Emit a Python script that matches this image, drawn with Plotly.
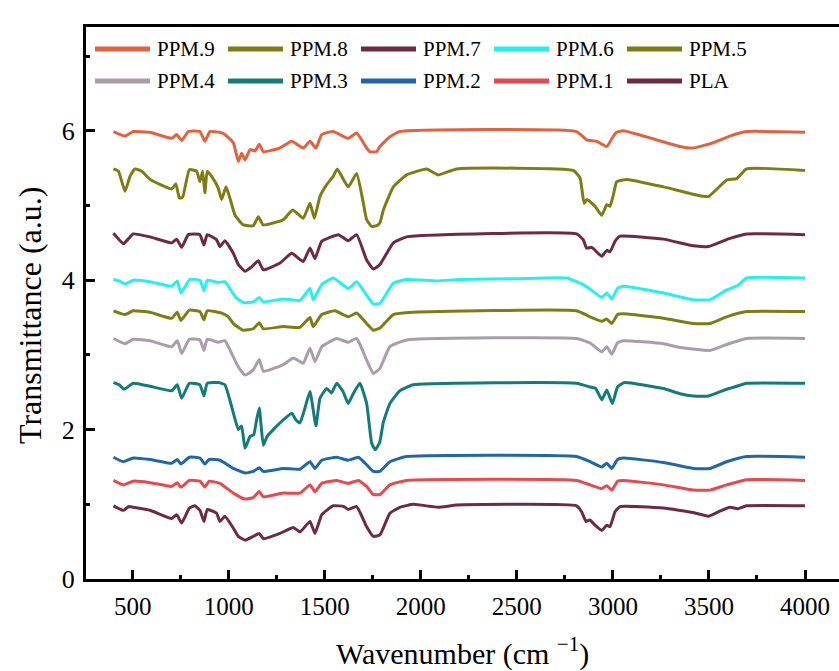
import plotly.graph_objects as go

# ---- FTIR spectra (wavenumber in cm^-1, transmittance offset per sample) ----
wn_ppm9 = [400, 460, 503, 590, 703, 729, 755, 790, 850, 876, 902, 954, 980, 1024, 1050, 1067, 1085, 1111, 1137,
           1159, 1180, 1267, 1328, 1388, 1423, 1454, 1484, 1544, 1622, 1666, 1718, 1735, 1770, 1787, 1839, 1891,
           2811, 2863, 2915, 2968, 3000, 3020, 3055, 3349, 3418, 3522, 3609, 3696, 4000]
tr_ppm9 = [5.99, 5.93, 5.99, 5.98, 5.90, 5.95, 5.87, 5.99, 5.99, 5.86, 5.99, 5.98, 5.95, 5.84, 5.59, 5.70, 5.61,
           5.75, 5.73, 5.82, 5.72, 5.77, 5.86, 5.77, 5.86, 5.77, 5.95, 5.99, 5.90, 5.97, 5.77, 5.72, 5.72, 5.79,
           5.92, 5.99, 5.99, 5.88, 5.86, 5.79, 5.92, 5.98, 6.00, 5.79, 5.77, 5.84, 5.93, 5.99, 5.98]

wn_ppm8 = [400, 426, 460, 486, 512, 547, 590, 703, 725, 743, 760, 795, 833, 850, 864, 876, 888, 911, 946, 963,
           986, 1006, 1033, 1076, 1128, 1154, 1180, 1284, 1333, 1388, 1423, 1446, 1475, 1510, 1544, 1565, 1622,
           1666, 1701, 1718, 1744, 1770, 1787, 1805, 1857, 1926, 2030, 2091, 2187, 2794, 2829, 2850, 2865, 2907,
           2942, 2968, 2985, 3002, 3020, 3072, 3263, 3436, 3497, 3592, 3644, 3696, 4000]
tr_ppm8 = [5.49, 5.46, 5.19, 5.39, 5.49, 5.46, 5.35, 5.22, 5.29, 5.10, 5.11, 5.48, 5.46, 5.32, 5.46, 5.17, 5.46,
           5.39, 5.23, 5.08, 5.25, 5.10, 4.87, 4.74, 4.73, 4.85, 4.74, 4.81, 4.94, 4.83, 5.03, 4.83, 5.12, 5.28,
           5.39, 5.49, 5.25, 5.43, 5.03, 4.81, 4.72, 4.73, 4.77, 4.94, 5.25, 5.41, 5.49, 5.41, 5.49, 5.47, 5.37,
           5.03, 5.08, 4.99, 4.87, 5.01, 4.99, 5.14, 5.32, 5.35, 5.25, 5.14, 5.12, 5.34, 5.36, 5.49, 5.47]

wn_ppm7 = [400, 452, 480, 503, 590, 703, 729, 755, 790, 850, 871, 888, 937, 954, 980, 1024, 1050, 1085, 1120,
           1154, 1180, 1267, 1328, 1388, 1423, 1449, 1484, 1571, 1622, 1666, 1718, 1753, 1787, 1857, 1926, 2811,
           2846, 2863, 2890, 2942, 2968, 2985, 3011, 3037, 3263, 3418, 3497, 3609, 3696, 4000]
tr_ppm7 = [4.63, 4.49, 4.56, 4.62, 4.58, 4.50, 4.55, 4.44, 4.61, 4.61, 4.47, 4.61, 4.54, 4.45, 4.53, 4.36, 4.21,
           4.12, 4.18, 4.26, 4.14, 4.23, 4.36, 4.25, 4.43, 4.29, 4.52, 4.61, 4.53, 4.61, 4.27, 4.15, 4.21, 4.50,
           4.58, 4.62, 4.54, 4.43, 4.44, 4.32, 4.40, 4.38, 4.52, 4.59, 4.55, 4.46, 4.45, 4.56, 4.62, 4.61]

wn_ppm6 = [400, 430, 460, 503, 590, 703, 732, 751, 798, 850, 871, 888, 946, 980, 1015, 1041, 1076, 1128, 1159,
           1180, 1284, 1371, 1423, 1440, 1484, 1544, 1622, 1666, 1718, 1753, 1787, 1857, 1926, 2083, 2200, 2500,
           2759, 2846, 2881, 2942, 2968, 2994, 3024, 3055, 3263, 3418, 3505, 3592, 3650, 3696, 4000]
tr_ppm6 = [4.01, 3.99, 3.95, 4.00, 3.98, 3.92, 3.99, 3.83, 4.01, 4.00, 3.86, 4.00, 3.97, 3.98, 3.85, 3.76, 3.70,
           3.71, 3.77, 3.71, 3.75, 3.73, 3.89, 3.74, 3.94, 4.03, 3.89, 3.98, 3.80, 3.68, 3.69, 3.96, 4.01, 3.99,
           4.01, 4.02, 4.03, 3.94, 3.88, 3.77, 3.83, 3.75, 3.89, 3.92, 3.83, 3.74, 3.74, 3.87, 3.93, 4.03, 4.03]

wn_ppm5 = [400, 460, 503, 590, 703, 732, 751, 795, 850, 871, 888, 963, 998, 1024, 1076, 1128, 1159, 1180, 1284,
           1371, 1423, 1440, 1484, 1553, 1622, 1666, 1718, 1753, 1787, 1857, 1961, 2811, 2881, 2942, 2968, 2994,
           3024, 3055, 3263, 3418, 3505, 3592, 3696, 4000]
tr_ppm5 = [3.59, 3.54, 3.59, 3.57, 3.49, 3.57, 3.46, 3.60, 3.58, 3.47, 3.59, 3.56, 3.51, 3.42, 3.33, 3.35, 3.43,
           3.35, 3.38, 3.37, 3.50, 3.38, 3.54, 3.59, 3.51, 3.56, 3.42, 3.33, 3.36, 3.54, 3.57, 3.59, 3.51, 3.45,
           3.48, 3.42, 3.54, 3.55, 3.49, 3.42, 3.42, 3.51, 3.58, 3.58]

wn_ppm4 = [400, 460, 503, 590, 703, 732, 755, 795, 850, 871, 888, 946, 980, 1015, 1050, 1085, 1128, 1159, 1180,
           1284, 1336, 1388, 1423, 1449, 1484, 1562, 1622, 1666, 1718, 1753, 1787, 1839, 1926, 2811, 2881, 2942,
           2968, 2994, 3024, 3055, 3263, 3350, 3505, 3592, 3696, 4000]
tr_ppm4 = [3.22, 3.15, 3.21, 3.19, 3.11, 3.19, 3.02, 3.21, 3.20, 3.06, 3.21, 3.17, 3.19, 3.02, 2.84, 2.73, 2.80,
           2.94, 2.78, 2.87, 2.96, 2.89, 3.09, 2.91, 3.11, 3.22, 3.17, 3.22, 2.93, 2.75, 2.82, 3.11, 3.20, 3.22,
           3.16, 3.04, 3.11, 3.01, 3.16, 3.19, 3.15, 3.10, 3.06, 3.14, 3.22, 3.22]

wn_ppm3 = [400, 430, 455, 503, 590, 703, 732, 755, 795, 850, 871, 888, 946, 980, 1015, 1050, 1067, 1085, 1111,
           1130, 1145, 1159, 1180, 1200, 1232, 1284, 1328, 1350, 1371, 1397, 1423, 1454, 1475, 1510, 1535, 1562,
           1595, 1622, 1650, 1683, 1718, 1744, 1762, 1785, 1805, 1839, 1891, 1961, 2811, 2881, 2910, 2942, 2968,
           2997, 3024, 3060, 3263, 3350, 3418, 3497, 3592, 3644, 3696, 4000]
tr_ppm3 = [2.63, 2.60, 2.54, 2.62, 2.58, 2.52, 2.60, 2.42, 2.62, 2.60, 2.45, 2.62, 2.63, 2.60, 2.31, 2.00, 2.05,
           1.75, 1.91, 1.93, 2.13, 2.29, 1.79, 1.91, 2.00, 2.13, 2.22, 2.13, 2.09, 2.29, 2.51, 2.05, 2.42, 2.55,
           2.49, 2.62, 2.51, 2.35, 2.49, 2.62, 2.35, 1.82, 1.73, 1.82, 2.10, 2.35, 2.52, 2.60, 2.62, 2.57, 2.55,
           2.40, 2.53, 2.35, 2.57, 2.63, 2.55, 2.48, 2.45, 2.45, 2.54, 2.58, 2.62, 2.62]

wn_ppm2 = [400, 452, 503, 590, 703, 732, 751, 795, 850, 876, 898, 954, 1024, 1085, 1128, 1159, 1180, 1284, 1371,
           1423, 1449, 1484, 1562, 1622, 1675, 1718, 1753, 1787, 1839, 1926, 2811, 2881, 2942, 2968, 2994, 3024,
           3055, 3263, 3418, 3505, 3592, 3696, 4000]
tr_ppm2 = [1.63, 1.57, 1.62, 1.60, 1.55, 1.60, 1.54, 1.63, 1.62, 1.54, 1.60, 1.59, 1.48, 1.42, 1.44, 1.49, 1.44,
           1.48, 1.47, 1.57, 1.48, 1.59, 1.63, 1.59, 1.63, 1.53, 1.44, 1.44, 1.57, 1.64, 1.64, 1.57, 1.50, 1.55,
           1.48, 1.60, 1.62, 1.56, 1.48, 1.48, 1.57, 1.64, 1.63]

wn_ppm1 = [400, 452, 503, 590, 703, 732, 751, 795, 850, 876, 898, 954, 1024, 1085, 1128, 1159, 1180, 1284, 1371,
           1423, 1449, 1484, 1562, 1622, 1675, 1718, 1753, 1787, 1839, 1926, 2811, 2881, 2942, 2968, 2994, 3024,
           3055, 3263, 3418, 3505, 3592, 3696, 4000]
tr_ppm1 = [1.32, 1.26, 1.31, 1.29, 1.24, 1.29, 1.23, 1.32, 1.31, 1.23, 1.31, 1.28, 1.15, 1.07, 1.09, 1.17, 1.10,
           1.15, 1.15, 1.26, 1.17, 1.28, 1.32, 1.28, 1.32, 1.24, 1.13, 1.13, 1.26, 1.32, 1.32, 1.26, 1.21, 1.25,
           1.19, 1.31, 1.32, 1.26, 1.19, 1.19, 1.26, 1.33, 1.32]

wn_pla = [400, 415, 452, 480, 503, 590, 703, 729, 755, 795, 824, 850, 871, 888, 937, 954, 980, 1024, 1050, 1085,
          1120, 1159, 1180, 1267, 1336, 1371, 1423, 1449, 1484, 1544, 1600, 1622, 1666, 1718, 1753, 1787, 1839,
          1891, 1961, 2091, 2187, 2811, 2837, 2860, 2880, 2907, 2942, 2968, 2985, 3011, 3037, 3263, 3418, 3497,
          3550, 3609, 3650, 3696, 4000]
tr_pla = [0.98, 0.96, 0.92, 0.97, 0.96, 0.92, 0.81, 0.86, 0.75, 0.95, 0.98, 0.92, 0.77, 0.93, 0.88, 0.77, 0.84,
          0.68, 0.57, 0.52, 0.56, 0.61, 0.54, 0.61, 0.69, 0.63, 0.77, 0.61, 0.86, 0.98, 0.97, 0.93, 0.97, 0.70,
          0.57, 0.59, 0.88, 0.96, 1.00, 0.96, 0.99, 0.98, 0.90, 0.77, 0.79, 0.72, 0.65, 0.72, 0.70, 0.90, 0.97,
          0.95, 0.89, 0.84, 0.90, 0.96, 0.94, 0.98, 0.98]

series_names = ["PPM.9", "PPM.8", "PPM.7", "PPM.6", "PPM.5", "PPM.4", "PPM.3", "PPM.2", "PPM.1", "PLA"]
series_x = [wn_ppm9, wn_ppm8, wn_ppm7, wn_ppm6, wn_ppm5, wn_ppm4, wn_ppm3, wn_ppm2, wn_ppm1, wn_pla]
series_y = [tr_ppm9, tr_ppm8, tr_ppm7, tr_ppm6, tr_ppm5, tr_ppm4, tr_ppm3, tr_ppm2, tr_ppm1, tr_pla]
series_colors = ["#E2623F", "#7E7D14", "#6E2A45", "#25F0F0", "#7E7D14",
                 "#AA9DA9", "#137B78", "#2067A8", "#E44A4E", "#6E2A45"]

x_ticks = [500, 1000, 1500, 2000, 2500, 3000, 3500, 4000]
y_ticks = [0, 2, 4, 6]

FONT = "Liberation Serif"
W, H = 839, 671
ML, MR, MT, MB = 86, 0, 27, 92
PW, PH = W - ML - MR, H - MT - MB


def px_x(px):
    return (px - ML) / PW


def px_y(py):
    return (H - MB - py) / PH


fig = go.Figure()
for name, xs, ys, col in zip(series_names, series_x, series_y, series_colors):
    fig.add_trace(go.Scatter(x=xs, y=ys, mode="lines", name=name,
                             line=dict(color=col, width=3, shape="spline", smoothing=0.4),
                             showlegend=False))

# Two-row legend drawn inside the plot frame
shapes, annotations = [], []
for i, (name, col) in enumerate(zip(series_names, series_colors)):
    row, colno = divmod(i, 5)
    x0 = 95 + colno * 133
    yc = 49 + row * 32
    shapes.append(dict(type="line", xref="paper", yref="paper",
                       x0=px_x(x0), x1=px_x(x0 + 55), y0=px_y(yc), y1=px_y(yc),
                       line=dict(color=col, width=5)))
    annotations.append(dict(text=name, xref="paper", yref="paper", x=px_x(x0 + 60), y=px_y(yc),
                            xanchor="left", yanchor="middle", showarrow=False,
                            font=dict(family=FONT, size=21, color="black")))

annotations.append(dict(text="Wavenumber (cm <sup>\u22121</sup>)", xref="paper", yref="paper",
                        x=px_x(462), y=px_y(651), xanchor="center", yanchor="middle", showarrow=False,
                        font=dict(family=FONT, size=30, color="black")))
annotations.append(dict(text="Transmittance (a.u.)", xref="paper", yref="paper", textangle=-90,
                        x=px_x(30), y=px_y(316), xanchor="center", yanchor="middle", showarrow=False,
                        font=dict(family=FONT, size=32, color="black")))

fig.update_layout(
    width=W, height=H,
    margin=dict(l=ML, r=MR, t=MT, b=MB),
    paper_bgcolor="white", plot_bgcolor="white",
    font=dict(family=FONT, size=25, color="black"),
    shapes=shapes, annotations=annotations,
    showlegend=False,
)
fig.update_xaxes(range=[257, 4177], tickmode="array", tickvals=x_ticks,
                 ticktext=[str(v) for v in x_ticks],
                 showline=True, linecolor="black", linewidth=3, mirror=True,
                 ticks="inside", ticklen=9, tickwidth=3, tickcolor="black", ticklabelstandoff=3,
                 minor=dict(tick0=250, dtick=500, ticks="inside", ticklen=4, tickwidth=3, tickcolor="black"),
                 showgrid=False, zeroline=False, tickfont=dict(family=FONT, size=25))
fig.update_yaxes(range=[0, 7.39], tickmode="array", tickvals=y_ticks,
                 ticktext=[str(v) for v in y_ticks],
                 showline=True, linecolor="black", linewidth=3,
                 ticks="inside", ticklen=9, tickwidth=3, tickcolor="black", ticklabelstandoff=3,
                 minor=dict(tick0=1, dtick=2, ticks="inside", ticklen=4, tickwidth=3, tickcolor="black"),
                 showgrid=False, zeroline=False, tickfont=dict(family=FONT, size=26))

fig.write_html("out.html")
